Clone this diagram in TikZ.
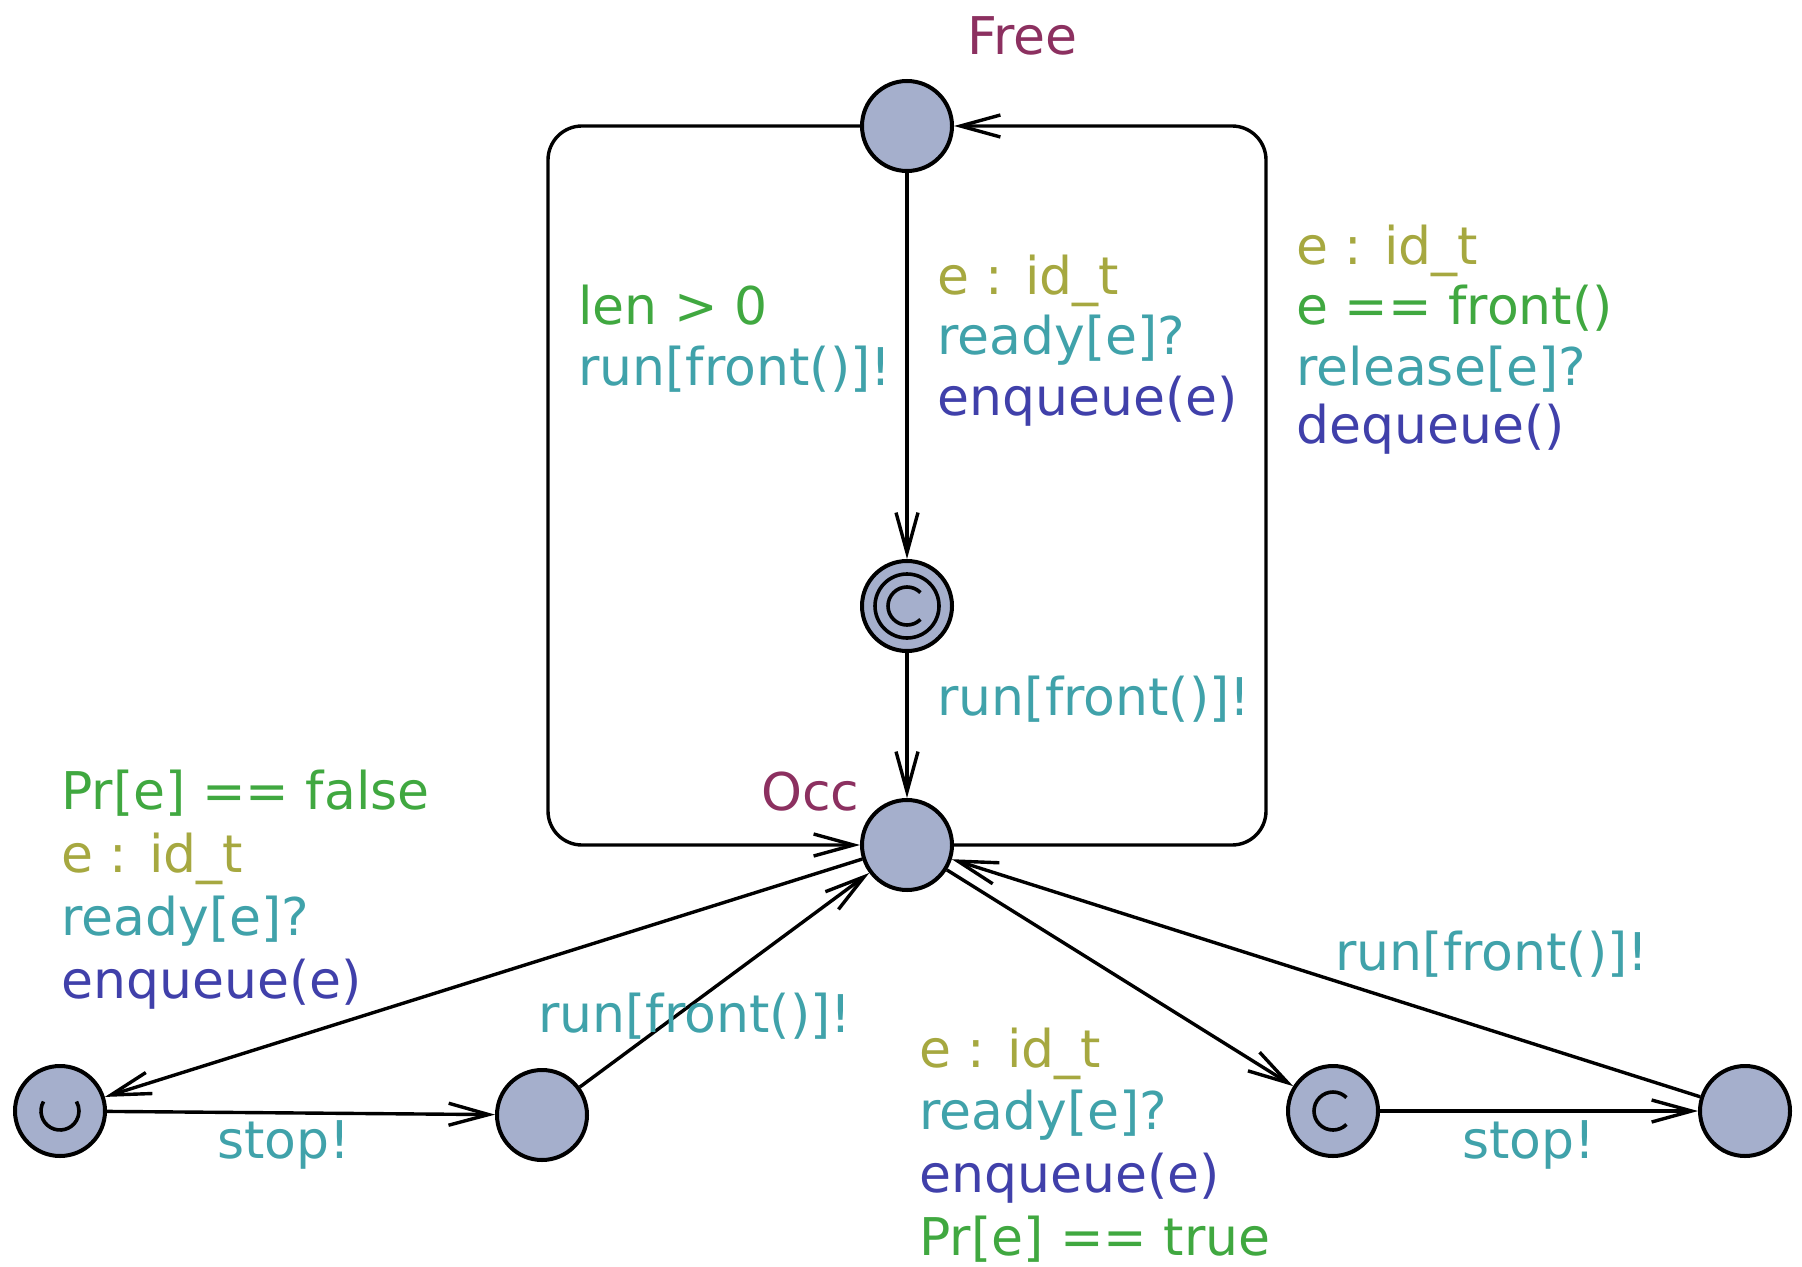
\documentclass[tikz,border=0pt]{standalone}
\usepackage{fontspec}
\setmainfont{DejaVu Sans}
\usepackage{xcolor}
\usepackage{tikz}
\usetikzlibrary{arrows.meta}
\definecolor{locn}{RGB}{140,48,96}
\definecolor{sel}{RGB}{166,168,64}
\definecolor{grd}{RGB}{64,168,64}
\definecolor{syn}{RGB}{64,162,170}
\definecolor{upd}{RGB}{64,64,170}
\definecolor{locfill}{RGB}{165,175,204}
\begin{document}
\begin{tikzpicture}[x=0.5pt,y=-0.5pt,
        loc/.style={circle,draw,line width=2pt,fill=locfill,minimum size=45pt,inner sep=0pt},
        edge/.style={line width=1.7pt,-{Straight Barb[length=20pt,width=11pt]}},
        sym/.style={line width=1.8pt},
        lbl/.style={anchor=base west,inner sep=0pt,font=\fontsize{26pt}{30pt}\selectfont}]
    \useasboundingbox (0,0) rectangle (1802,1267);
    \foreach \n/\x/\y in {free/907/126, cm/907/606, occ/907/845, ur/60/1111, nb/542/1115, cr/1333/1111, br/1745/1111}
        \node[loc] (\n) at (\x,\y) {};
    \draw[sym] (cm) circle[radius=16pt];
    \foreach \n in {cm,cr}
        \draw[sym] ([shift={(45:9.5pt)}]\n.center) arc[start angle=45,end angle=315,radius=9.5pt];
    \draw[sym] ([shift={(150:9.5pt)}]ur.center) arc[start angle=150,end angle=390,radius=9.5pt];
    \coordinate (lt) at (548,126);
    \coordinate (lb) at (548,845);
    \coordinate (rt) at (1266,126);
    \coordinate (rb) at (1266,845);
    \draw[edge,rounded corners=17pt] (free) -- (lt) -- (lb) -- (occ);
    \draw[edge,rounded corners=17pt] (occ) -- (rb) -- (rt) -- (free);
    \foreach \a/\b in {free/cm, cm/occ, occ/ur, ur/nb, nb/occ, occ/cr, cr/br, br/occ}
        \draw[edge] (\a) -- (\b);
    \foreach \x/\y/\c/\t [count=\i] in {
            967/55/locn/Free,
            761/810/locn/Occ,
            578/325/grd/len > 0,
            578/385/syn/run[front()]!,
            937/295/sel/e : id\_t,
            937/355/syn/ready[e]?,
            937/415/upd/enqueue(e),
            1296/265/sel/e : id\_t,
            1296/325/grd/e == front(),
            1296/385/syn/release[e]?,
            1296/443/upd/dequeue(),
            937/715/syn/run[front()]!,
            61/809/grd/Pr[e] == false,
            61/872/sel/e : id\_t,
            61/935/syn/ready[e]?,
            61/998/upd/enqueue(e),
            538/1032/syn/run[front()]!,
            217/1158/syn/stop!,
            919/1067/sel/e : id\_t,
            919/1129/syn/ready[e]?,
            919/1192/upd/enqueue(e),
            919/1255/grd/Pr[e] == true,
            1335/970/syn/run[front()]!,
            1462/1158/syn/stop!
        }
        \node[lbl,text=\c] (t\i) at (\x,\y) {\t};
\end{tikzpicture}
\end{document}
